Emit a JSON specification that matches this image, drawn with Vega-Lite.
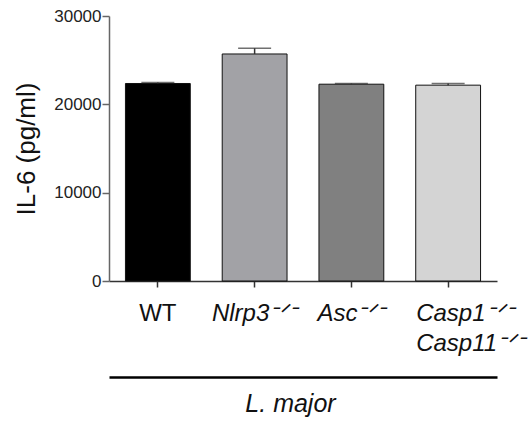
{
  "$schema": "https://vega.github.io/schema/vega-lite/v6.json",
  "width": 388,
  "height": 265,
  "autosize": {"type": "none"},
  "padding": {"left": 109, "top": 16, "right": 32, "bottom": 144},
  "background": "white",
  "config": {"view": {"stroke": null}, "font": "Liberation Sans"},
  "data": {
    "values": [
      {"group": "WT", "mean": 22360, "upper": 22470},
      {"group": "Nlrp3ᐨᐟᐨ", "mean": 25700, "upper": 26350},
      {"group": "Ascᐨᐟᐨ", "mean": 22280, "upper": 22350},
      {"group": "Casp1ᐨᐟᐨ Casp11ᐨᐟᐨ", "mean": 22170, "upper": 22350}
    ]
  },
  "layer": [
    {
      "mark": {"type": "bar", "stroke": "#111111", "strokeWidth": 1},
      "encoding": {
        "x": {
          "field": "group",
          "type": "nominal",
          "sort": null,
          "scale": {"paddingInner": 0.33, "paddingOuter": 0.17},
          "axis": {
            "title": null,
            "labelAngle": 0,
            "labelExpr": "split(datum.label, ' ')",
            "labelFontSize": 24,
            "labelLineHeight": 30,
            "labelColor": "#111111",
            "labelPadding": 14,
            "labelLimit": 0,
            "labelOverlap": false,
            "labelFontStyle": {"condition": {"test": "datum.value === 'WT'", "value": "normal"}, "value": "italic"},
            "labelAlign": {"condition": {"test": "indexof(datum.value, 'Casp') === 0", "value": "left"}, "value": "center"},
            "labelOffset": {"condition": {"test": "indexof(datum.value, 'Casp') === 0", "value": -32}, "value": 0},
            "domainColor": "#333333",
            "domainWidth": 1.5,
            "tickColor": "#333333",
            "tickSize": 6,
            "tickWidth": 1.5
          }
        },
        "y": {
          "field": "mean",
          "type": "quantitative",
          "scale": {"domain": [0, 30000], "nice": false},
          "axis": {
            "title": "IL-6 (pg/ml)",
            "values": [0, 10000, 20000, 30000],
            "format": "d",
            "grid": false,
            "labelFontSize": 17,
            "labelColor": "#222222",
            "labelPadding": 1,
            "tickSize": 7,
            "tickColor": "#666666",
            "tickWidth": 1.5,
            "domainColor": "#666666",
            "domainWidth": 1.5,
            "titleFontSize": 26,
            "titleFontWeight": "normal",
            "titleColor": "#111111",
            "titlePadding": 14
          }
        },
        "color": {
          "field": "group",
          "type": "nominal",
          "sort": null,
          "scale": {"range": ["#000000", "#a2a2a6", "#808080", "#d4d4d4"]},
          "legend": null
        }
      }
    },
    {
      "encoding": {
        "x": {
          "field": "group",
          "type": "nominal",
          "sort": null,
          "scale": {"paddingInner": 0.33, "paddingOuter": 0.17},
          "axis": {
            "orient": "bottom",
            "offset": 96,
            "labels": false,
            "ticks": false,
            "domain": true,
            "domainColor": "#000000",
            "domainWidth": 2.5,
            "title": "L. major",
            "titleFontStyle": "italic",
            "titleFontWeight": "normal",
            "titleFontSize": 25,
            "titleColor": "#111111",
            "titlePadding": 14,
            "titleX": 181
          }
        }
      },
      "layer": [
        {
          "mark": {"type": "rule", "color": "#333333", "strokeWidth": 1.5},
          "encoding": {
            "y": {"field": "mean", "type": "quantitative", "scale": {"domain": [0, 30000], "nice": false}},
            "y2": {"field": "upper"}
          }
        },
        {
          "mark": {"type": "tick", "color": "#333333", "thickness": 1.5, "size": 33},
          "encoding": {
            "y": {"field": "upper", "type": "quantitative", "scale": {"domain": [0, 30000], "nice": false}}
          }
        }
      ]
    }
  ],
  "resolve": {"scale": {"x": "independent"}, "axis": {"x": "independent"}}
}
